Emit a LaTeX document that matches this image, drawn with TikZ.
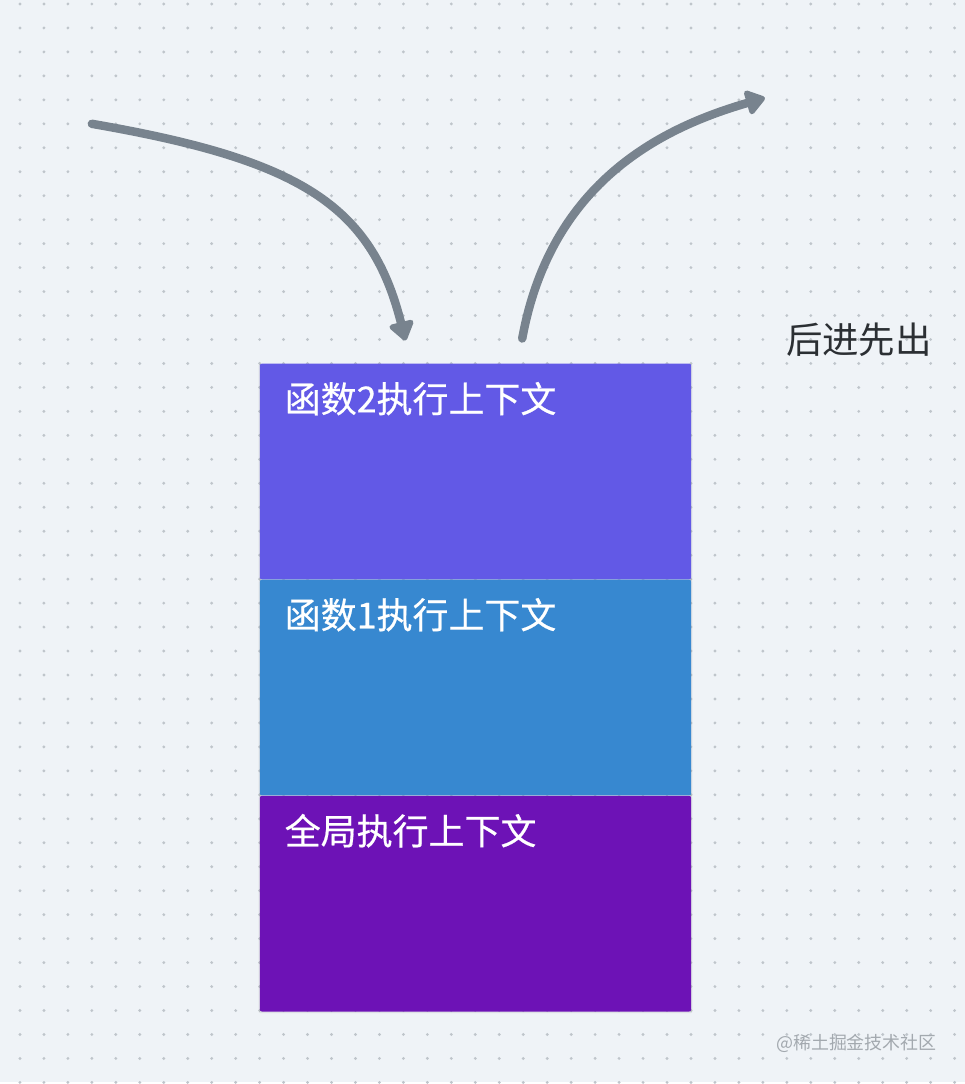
\documentclass[tikz,border=0pt]{standalone}
\usepackage{fontspec}
\newfontfamily\cjk{Noto Sans CJK SC}
\newfontfamily\cjkmedium{Noto Sans CJK SC}[FakeBold=0.5]
\usetikzlibrary{arrows.meta}
\usetikzlibrary{positioning}
\usetikzlibrary{shadows}
\definecolor{paper}{HTML}{EFF3F7}
\definecolor{dotgray}{HTML}{BFC5CB}
\definecolor{arrowgray}{HTML}{78838E}
\definecolor{fntwo}{HTML}{6259E6}
\definecolor{fnone}{HTML}{3788D0}
\definecolor{globalctx}{HTML}{6D12B6}
\definecolor{inkgray}{HTML}{2B2F33}
\definecolor{markgray}{HTML}{A3A9AF}
\begin{document}
\begin{tikzpicture}[line cap=round,line join=round, x=1pt,y=-1pt,
  ctxbox/.style={rectangle, rounded corners=2pt, minimum width=432pt, minimum height=216pt, inner sep=0pt,
    drop shadow={shadow xshift=0pt, shadow yshift=-1pt, shadow scale=1.006, opacity=0.15}},
  ctxlabel/.style={anchor=base west, inner sep=0pt, text=white, font=\cjkmedium\fontsize{36}{40}\selectfont},
  flow/.style={line width=8.5pt, color=arrowgray, -{Triangle[length=21pt, width=28pt, round]}}]
					\fill[paper] (0,0) rectangle (966,1084);
					\foreach \x in {20,44,...,956}
					\foreach \y in {4,28,...,1084}
					\fill[dotgray] (\x,\y) circle (1.6pt);
					% the stack
					\node[ctxbox, fill=fntwo, anchor=north west] (fn2) at (260,364) {};
					\node[ctxbox, fill=fnone, below=0pt of fn2] (fn1) {};
					\node[ctxbox, fill=globalctx, below=0pt of fn1] (global) {};
					\node[ctxlabel] (fn2text) at ([xshift=25pt, yshift=-49pt]fn2.north west) {函数2执行上下文};
					\node[ctxlabel] (fn1text) at ([xshift=25pt, yshift=-49pt]fn1.north west) {函数1执行上下文};
					\node[ctxlabel] (globaltext) at ([xshift=25pt, yshift=-49pt]global.north west) {全局执行上下文};
					% push and pop
					\coordinate (pushstart) at (92,124);
					\coordinate (pushend) at (406,341);
					\coordinate (popstart) at (523,339);
					\coordinate (popend) at (766,98);
					\draw[flow] (pushstart) .. controls (300,160) and (372,205) .. (pushend);
					\draw[flow] (popstart) .. controls (552,180) and (666,127) .. (popend);
					\node[anchor=base west, inner sep=0pt, text=inkgray, font=\cjk\fontsize{36.5}{40}\selectfont] (lifo) at (787,354) {后进先出};
					\node[anchor=base west, inner sep=0pt, text=markgray, font=\cjk\fontsize{18}{20}\selectfont] (mark) at (777,1051) {@稀土掘金技术社区};
				\end{tikzpicture}
\end{document}
